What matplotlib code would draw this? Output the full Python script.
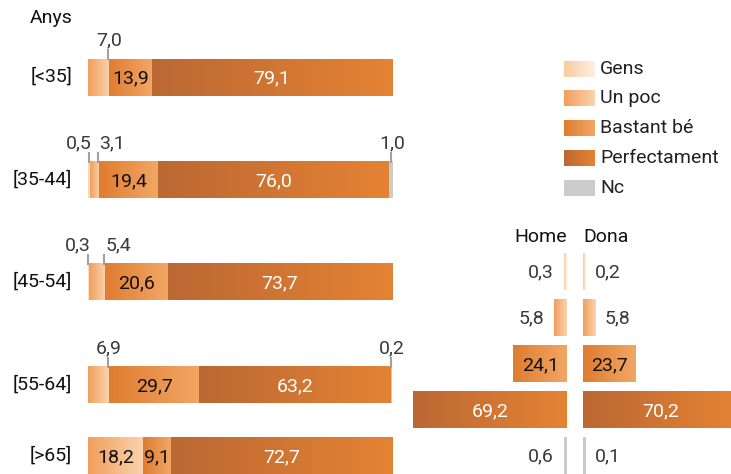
import numpy as np
import matplotlib
matplotlib.use("Agg")
import matplotlib.pyplot as plt
from matplotlib.colors import LinearSegmentedColormap

plt.rcParams['font.family'] = ['Roboto', 'DejaVu Sans']

# data
age_groups = ["[<35]", "[35-44]", "[45-54]", "[55-64]", "[>65]"]
levels = ["Gens", "Un poc", "Bastant bé", "Perfectament", "Nc"]
gens = [0.0, 0.5, 0.3, 0.0, 0.0]
un_poc = [7.0, 3.1, 5.4, 6.9, 18.2]
bastant = [13.9, 19.4, 20.6, 29.7, 9.1]
perfect = [79.1, 76.0, 73.7, 63.2, 72.7]
nc = [0.0, 1.0, 0.0, 0.2, 0.0]

home = [0.3, 5.8, 24.1, 69.2, 0.6]
dona = [0.2, 5.8, 23.7, 70.2, 0.1]

# styles: gradient (left colour, right colour) per level
grads = [("#F9CB9E", "#FEF0E2"),
         ("#F19E5C", "#FAD4AE"),
         ("#DF7C30", "#F2A765"),
         ("#BB6833", "#E58334"),
         ("#CCCCCC", "#CCCCCC")]
txt_in = ["#111111", "#111111", "#111111", "white", "#111111"]
FS = 14
OUT_C = "#3a3a3a"
W, H = 731, 474

fig = plt.figure(figsize=(W / 100, H / 100), dpi=100)


def grad_fill(ax, patch, c0, c1):
    x0, y0 = patch.get_x(), patch.get_y()
    w, h = patch.get_width(), patch.get_height()
    cmap = LinearSegmentedColormap.from_list("g", [c0, c1])
    ax.imshow(np.linspace(0, 1, 256).reshape(1, -1), cmap=cmap,
              extent=(x0, x0 + w, y0 + h, y0), aspect="auto",
              interpolation="bilinear", zorder=2)


def fmt(v):
    return f"{v:.1f}".replace(".", ",")


# ---- left panel: stacked bars by age ----
px_l = 304 / 100.0  # pixels per unit
ax = fig.add_axes([88 / W, 0, 304 / W, 1])
row_y = [77, 180, 282, 385, 456]
bar_h = 37
series = [gens, un_poc, bastant, perfect, nc]
for i, y in enumerate(row_y):
    left = 0.0
    small = []
    for k, s in enumerate(series):
        v = s[i]
        if v <= 0:
            continue
        p = ax.barh(y, v, left=left, height=bar_h, color="none")[0]
        grad_fill(ax, p, *grads[k])
        if v < 8:
            small.append((left + v, v))
        else:
            ax.text(left + v / 2, y + 1, fmt(v), ha="center", va="center",
                    fontsize=FS, color=txt_in[k], zorder=4)
        left += v
    # small values annotated above with a tick
    top = y - bar_h / 2
    for j, (xe, v) in enumerate(small):
        xt = xe - 0.3
        ax.plot([xt, xt], [top - 9, top], color="#A0A0A0", lw=1.5,
                zorder=3, clip_on=False)
        near_next = j + 1 < len(small) and small[j + 1][0] - xe < 8
        near_prev = j > 0 and xe - small[j - 1][0] < 8
        if near_next:
            ha, xo = "right", 3
        elif near_prev:
            ha, xo = "left", 1
        else:
            ha, xo = "center", 1
        ax.text(xt + xo / px_l, top - 13, fmt(v), ha=ha, va="baseline",
                fontsize=FS, color=OUT_C)
    ax.text(-16 / px_l, y, age_groups[i], ha="right", va="center",
            fontsize=FS, color="#111111")
ax.text(-58 / px_l, 18, "Anys", ha="left", va="center", fontsize=FS,
        color="#111111")
ax.set_xlim(0, 100)
ax.set_ylim(H, 0)
ax.axis("off")

# ---- right panel: Home / Dona ----
px_r = 2.22
ax2 = fig.add_axes([410 / W, 0, (W - 410) / W, 1])
half_gap = 8 / px_r
row_y2 = [272, 318, 364, 410, 456]
for k, y in enumerate(row_y2):
    for side, vals in ((-1, home), (1, dona)):
        v = vals[k]
        w = max(v, 1.3)
        left = -half_gap - w if side < 0 else half_gap
        p = ax2.barh(y, w, left=left, height=bar_h, color="none")[0]
        grad_fill(ax2, p, *grads[k])
        if v < 8:
            if side < 0:
                ax2.text(left - 10 / px_r, y, fmt(v), ha="right", va="center",
                         fontsize=FS, color=OUT_C)
            else:
                ax2.text(left + w + 9 / px_r, y, fmt(v), ha="left",
                         va="center", fontsize=FS, color=OUT_C)
        else:
            ax2.text(left + w / 2, y + 1, fmt(v), ha="center", va="center",
                     fontsize=FS, color=txt_in[k], zorder=4)
ax2.text(-half_gap, 237, "Home", ha="right", va="center", fontsize=FS,
         color="#111111")
ax2.text(half_gap, 237, "Dona", ha="left", va="center", fontsize=FS,
         color="#111111")
ax2.set_xlim(-165 / px_r, 156 / px_r)
ax2.set_ylim(H, 0)
ax2.axis("off")

# ---- legend (pixel overlay) ----
lax = fig.add_axes([0, 0, 1, 1])
lax.set_xlim(0, W)
lax.set_ylim(H, 0)
lax.axis("off")
leg_y = [69, 98, 128, 158, 188]
for k, y in enumerate(leg_y):
    p = lax.bar(579.5, 16, width=31, bottom=y - 8, color="none")[0]
    grad_fill(lax, p, *grads[k])
    lax.text(600, y, levels[k], ha="left", va="center", fontsize=FS,
             color="#222222")
lax.set_xlim(0, W)
lax.set_ylim(H, 0)

fig.savefig("out.png", dpi=100)
